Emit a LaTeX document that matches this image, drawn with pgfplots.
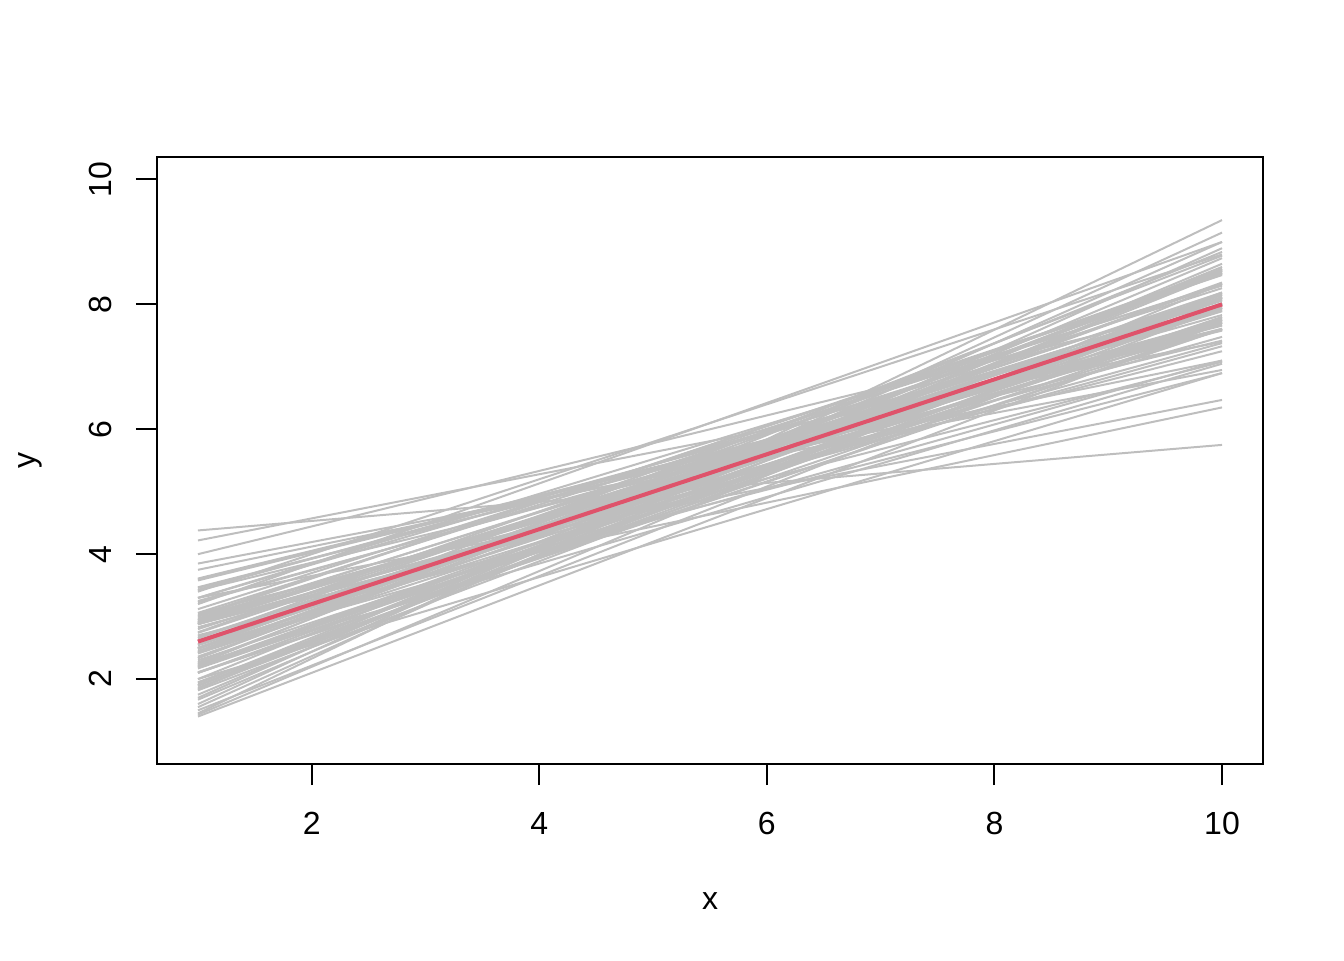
\documentclass[border=0pt]{standalone}
\usepackage{fontspec}
\setmainfont{Liberation Sans}
\usepackage{pgfplots}
\pgfplotsset{compat=1.18}
\definecolor{rgray}{HTML}{BEBEBE}
\definecolor{rred}{HTML}{DF536B}
\pgfplotsset{bs/.style={color=rgray, line width=0.75pt, no marks}}
\begin{document}
\begin{tikzpicture}
\path[use as bounding box] (0,0) rectangle (504pt,360pt);
\begin{axis}[
  at={(58.875pt,73.5pt)}, anchor=south west,
  scale only axis, width=414.75pt, height=227.625pt,
  xmin=0.64, xmax=10.36, ymin=0.64, ymax=10.36,
  xtick={2,4,6,8,10}, ytick={2,4,6,8,10},
  tick align=outside, major tick length=7.875pt,
  xtick pos=left, ytick pos=left,
  axis line style={line width=0.75pt},
  every tick/.style={black, line width=0.75pt},
  /pgf/number format/assume math mode=true,
  tick label style={font=\fontsize{12}{14}\selectfont},
  x tick label style={anchor=center, yshift=-14.25pt},
  y tick label style={anchor=center, xshift=-13.5pt, rotate=90},
  label style={font=\fontsize{12}{14}\selectfont},
  xlabel={x}, ylabel={y},
  xlabel style={at={(axis description cs:0.5,-0.226)}, anchor=center},
  ylabel style={at={(axis description cs:-0.1148,0.5)}, anchor=center},
]
\addplot[bs] coordinates {(1,2.55) (10,7.95)};
\addplot[bs] coordinates {(1,3.25) (10,7.75)};
\addplot[bs] coordinates {(1,1.90) (10,8.10)};
\addplot[bs] coordinates {(1,2.90) (10,7.90)};
\addplot[bs] coordinates {(1,2.75) (10,8.55)};
\addplot[bs] coordinates {(1,3.05) (10,7.25)};
\addplot[bs] coordinates {(1,2.00) (10,8.60)};
\addplot[bs] coordinates {(1,2.95) (10,8.15)};
\addplot[bs] coordinates {(1,2.10) (10,7.70)};
\addplot[bs] coordinates {(1,2.95) (10,7.75)};
\addplot[bs] coordinates {(1,2.10) (10,8.10)};
\addplot[bs] coordinates {(1,2.80) (10,8.10)};
\addplot[bs] coordinates {(1,3.60) (10,7.60)};
\addplot[bs] coordinates {(1,1.75) (10,8.65)};
\addplot[bs] coordinates {(1,3.00) (10,8.50)};
\addplot[bs] coordinates {(1,2.50) (10,7.60)};
\addplot[bs] coordinates {(1,2.43) (10,8.33)};
\addplot[bs] coordinates {(1,2.50) (10,7.10)};
\addplot[bs] coordinates {(1,2.27) (10,8.57)};
\addplot[bs] coordinates {(1,2.56) (10,8.00)};
\addplot[bs] coordinates {(1,2.88) (10,8.08)};
\addplot[bs] coordinates {(1,2.42) (10,8.02)};
\addplot[bs] coordinates {(1,3.30) (10,8.10)};
\addplot[bs] coordinates {(1,1.95) (10,7.95)};
\addplot[bs] coordinates {(1,2.68) (10,7.98)};
\addplot[bs] coordinates {(1,3.58) (10,7.58)};
\addplot[bs] coordinates {(1,1.67) (10,8.57)};
\addplot[bs] coordinates {(1,2.10) (10,7.60)};
\addplot[bs] coordinates {(1,2.97) (10,8.07)};
\addplot[bs] coordinates {(1,2.45) (10,8.35)};
\addplot[bs] coordinates {(1,2.88) (10,7.48)};
\addplot[bs] coordinates {(1,2.48) (10,8.78)};
\addplot[bs] coordinates {(1,2.30) (10,7.75)};
\addplot[bs] coordinates {(1,2.66) (10,8.06)};
\addplot[bs] coordinates {(1,2.83) (10,7.33)};
\addplot[bs] coordinates {(1,2.34) (10,8.54)};
\addplot[bs] coordinates {(1,3.30) (10,8.30)};
\addplot[bs] coordinates {(1,2.36) (10,8.16)};
\addplot[bs] coordinates {(1,2.88) (10,7.08)};
\addplot[bs] coordinates {(1,2.24) (10,8.84)};
\addplot[bs] coordinates {(1,2.61) (10,7.71)};
\addplot[bs] coordinates {(1,2.65) (10,8.55)};
\addplot[bs] coordinates {(1,3.00) (10,7.60)};
\addplot[bs] coordinates {(1,1.89) (10,8.19)};
\addplot[bs] coordinates {(1,2.74) (10,8.19)};
\addplot[bs] coordinates {(1,2.54) (10,7.94)};
\addplot[bs] coordinates {(1,3.43) (10,7.93)};
\addplot[bs] coordinates {(1,1.82) (10,8.02)};
\addplot[bs] coordinates {(1,2.89) (10,7.89)};
\addplot[bs] coordinates {(1,2.21) (10,8.01)};
\addplot[bs] coordinates {(1,3.46) (10,7.66)};
\addplot[bs] coordinates {(1,1.90) (10,8.50)};
\addplot[bs] coordinates {(1,3.12) (10,8.32)};
\addplot[bs] coordinates {(1,2.20) (10,7.80)};
\addplot[bs] coordinates {(1,2.92) (10,7.72)};
\addplot[bs] coordinates {(1,2.50) (10,8.50)};
\addplot[bs] coordinates {(1,2.49) (10,7.79)};
\addplot[bs] coordinates {(1,3.42) (10,7.42)};
\addplot[bs] coordinates {(1,1.43) (10,8.33)};
\addplot[bs] coordinates {(1,2.62) (10,8.12)};
\addplot[bs] coordinates {(1,2.91) (10,7.91)};
\addplot[bs] coordinates {(1,2.19) (10,7.99)};
\addplot[bs] coordinates {(1,3.47) (10,7.67)};
\addplot[bs] coordinates {(1,1.93) (10,8.53)};
\addplot[bs] coordinates {(1,3.06) (10,8.26)};
\addplot[bs] coordinates {(1,2.17) (10,7.77)};
\addplot[bs] coordinates {(1,2.94) (10,7.74)};
\addplot[bs] coordinates {(1,2.49) (10,8.49)};
\addplot[bs] coordinates {(1,2.41) (10,7.71)};
\addplot[bs] coordinates {(1,3.61) (10,7.61)};
\addplot[bs] coordinates {(1,1.84) (10,8.74)};
\addplot[bs] coordinates {(1,2.11) (10,7.61)};
\addplot[bs] coordinates {(1,2.90) (10,8.00)};
\addplot[bs] coordinates {(1,2.22) (10,8.12)};
\addplot[bs] coordinates {(1,3.23) (10,7.83)};
\addplot[bs] coordinates {(1,1.86) (10,8.16)};
\addplot[bs] coordinates {(1,3.02) (10,8.47)};
\addplot[bs] coordinates {(1,2.61) (10,8.01)};
\addplot[bs] coordinates {(1,2.88) (10,7.38)};
\addplot[bs] coordinates {(1,2.33) (10,8.53)};
\addplot[bs] coordinates {(1,4.38) (10,5.75)};
\addplot[bs] coordinates {(1,2.92) (10,6.35)};
\addplot[bs] coordinates {(1,3.30) (10,6.47)};
\addplot[bs] coordinates {(1,4.00) (10,8.00)};
\addplot[bs] coordinates {(1,3.40) (10,8.80)};
\addplot[bs] coordinates {(1,1.45) (10,9.35)};
\addplot[bs] coordinates {(1,1.40) (10,7.70)};
\addplot[bs] coordinates {(1,4.22) (10,7.40)};
\addplot[bs] coordinates {(1,3.85) (10,6.95)};
\addplot[bs] coordinates {(1,3.75) (10,7.10)};
\addplot[bs] coordinates {(1,1.60) (10,9.15)};
\addplot[bs] coordinates {(1,1.55) (10,8.90)};
\addplot[bs] coordinates {(1,1.70) (10,9.00)};
\addplot[bs] coordinates {(1,3.20) (10,9.00)};
\addplot[bs] coordinates {(1,2.00) (10,6.90)};
\addplot[bs] coordinates {(1,1.50) (10,7.95)};
\addplot[bs] coordinates {(1,2.70) (10,6.90)};
\addplot[bs] coordinates {(1,2.25) (10,7.05)};
\addplot[color=rred, line width=1.5pt, no marks] coordinates {(1,2.60) (10,8.00)};
\end{axis}
\end{tikzpicture}
\end{document}
